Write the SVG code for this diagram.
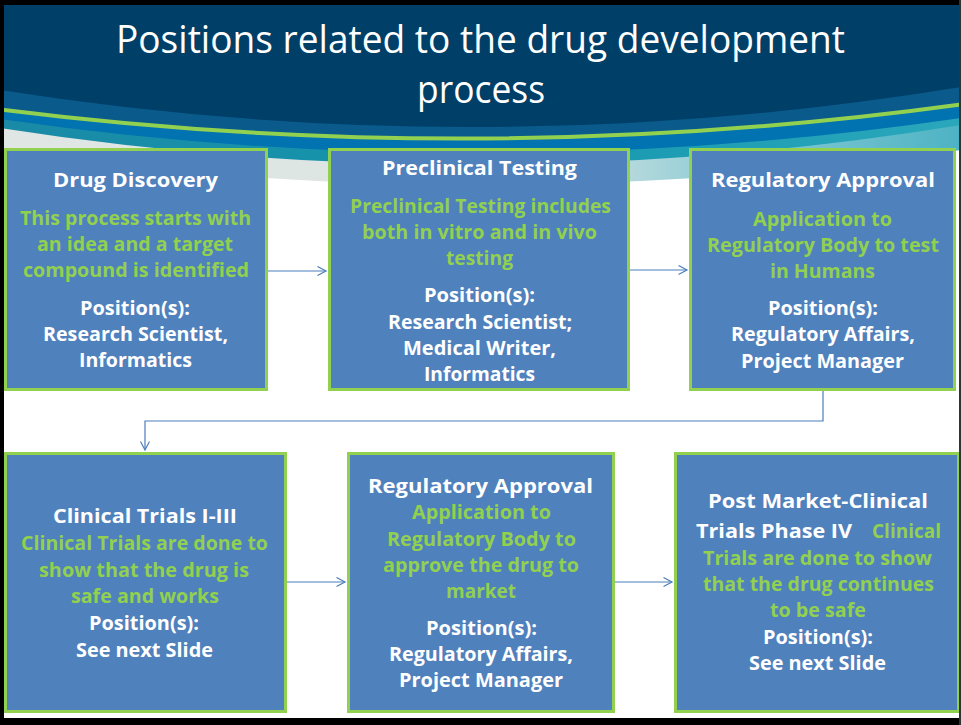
<svg xmlns="http://www.w3.org/2000/svg" width="961" height="725" viewBox="0 0 961 725">
<style>
.box{fill:#4F81BD;stroke:#92D050;stroke-width:3}
.t{font-family:"Open Sans","Liberation Sans",sans-serif;font-weight:bold;font-size:20px;text-anchor:middle}
.w{fill:#FFFFFF}
.g{fill:#92D050}
.title{font-family:"Open Sans","Liberation Sans",sans-serif;font-size:39px;fill:#FFFFFF;text-anchor:middle}
.conn{fill:none;stroke:#4A7EBB;stroke-width:1.2}
</style>
<defs>
<linearGradient id="light" x1="0" y1="0" x2="1" y2="0">
<stop offset="0" stop-color="#dfe6e3"/>
<stop offset="0.55" stop-color="#dde5e2"/>
<stop offset="0.75" stop-color="#8fcdd6"/>
<stop offset="1" stop-color="#4db3c4"/>
</linearGradient>
<linearGradient id="teal" x1="0" y1="0" x2="1" y2="0">
<stop offset="0" stop-color="#1a8aa6"/>
<stop offset="0.5" stop-color="#1596ae"/>
<stop offset="1" stop-color="#2aa7bb"/>
</linearGradient>
<marker id="arr" markerWidth="12" markerHeight="12" refX="9" refY="5" orient="auto" markerUnits="userSpaceOnUse">
<path d="M0.5,0.5 L9,5 L0.5,9.5" fill="none" stroke="#4A7EBB" stroke-width="1.2"/>
</marker>
</defs>
<rect x="0" y="0" width="961" height="725" fill="#FFFFFF"/>
<g id="header">
<path d="M0,0 H961 V150 Q480,220 0,150 Z" fill="url(#light)"/>
<path d="M0,0 H961 V125 Q480,203 0,128 Z" fill="url(#teal)"/>
<path d="M0,0 H961 V118 Q480,188 0,119 Z" fill="#0073b0"/>
<path d="M0,0 H961 V103 Q480,168.5 0,108 Z" fill="#0a5a8c"/>
<path d="M0,109.5 Q480,170 961,104.5" fill="none" stroke="#92D050" stroke-width="4"/>
<path d="M0,0 H961 V87 Q480,165.5 0,90 Z" fill="#003F67"/>
<text class="title" x="480.5" y="53" textLength="729" lengthAdjust="spacingAndGlyphs">Positions related to the drug development</text>
<text class="title" x="481" y="103" textLength="128" lengthAdjust="spacingAndGlyphs">process</text>
</g>
<g id="connectors">
<line class="conn" x1="268" y1="271" x2="326" y2="271" marker-end="url(#arr)"/>
<line class="conn" x1="630" y1="270" x2="687" y2="270" marker-end="url(#arr)"/>
<polyline class="conn" points="823,391 823,421 145,421 145,450" marker-end="url(#arr)"/>
<line class="conn" x1="287" y1="582" x2="345" y2="582" marker-end="url(#arr)"/>
<line class="conn" x1="615" y1="582" x2="672" y2="582" marker-end="url(#arr)"/>
</g>
<g id="drug-discovery">
<rect class="box" x="5.5" y="149.5" width="261" height="240"/>
<text class="t w" x="135.5" y="187" textLength="165" lengthAdjust="spacingAndGlyphs">Drug Discovery</text>
<text class="t g" x="135.5" y="225" textLength="231" lengthAdjust="spacingAndGlyphs">This process starts with</text>
<text class="t g" x="135" y="251" textLength="196" lengthAdjust="spacingAndGlyphs">an idea and a target</text>
<text class="t g" x="136" y="277" textLength="226" lengthAdjust="spacingAndGlyphs">compound is identified</text>
<text class="t w" x="135" y="315" textLength="110" lengthAdjust="spacingAndGlyphs">Position(s):</text>
<text class="t w" x="135.5" y="341" textLength="185" lengthAdjust="spacingAndGlyphs">Research Scientist,</text>
<text class="t w" x="135.5" y="367" textLength="113" lengthAdjust="spacingAndGlyphs">Informatics</text>
</g>
<g id="preclinical-testing">
<rect class="box" x="329.5" y="149.5" width="299" height="240"/>
<text class="t w" x="479.5" y="175" textLength="195" lengthAdjust="spacingAndGlyphs">Preclinical Testing</text>
<text class="t g" x="480.5" y="213" textLength="261" lengthAdjust="spacingAndGlyphs">Preclinical Testing includes</text>
<text class="t g" x="479.5" y="239" textLength="235" lengthAdjust="spacingAndGlyphs">both in vitro and in vivo</text>
<text class="t g" x="479.5" y="265" textLength="67" lengthAdjust="spacingAndGlyphs">testing</text>
<text class="t w" x="479.5" y="302" textLength="111" lengthAdjust="spacingAndGlyphs">Position(s):</text>
<text class="t w" x="480" y="329" textLength="184" lengthAdjust="spacingAndGlyphs">Research Scientist;</text>
<text class="t w" x="479.5" y="355" textLength="153" lengthAdjust="spacingAndGlyphs">Medical Writer,</text>
<text class="t w" x="479.5" y="381" textLength="111" lengthAdjust="spacingAndGlyphs">Informatics</text>
</g>
<g id="regulatory-approval-1">
<rect class="box" x="690.5" y="149.5" width="264" height="240"/>
<text class="t w" x="823" y="187" textLength="224" lengthAdjust="spacingAndGlyphs">Regulatory Approval</text>
<text class="t g" x="822.5" y="226" textLength="139" lengthAdjust="spacingAndGlyphs">Application to</text>
<text class="t g" x="823" y="252" textLength="232" lengthAdjust="spacingAndGlyphs">Regulatory Body to test</text>
<text class="t g" x="822.5" y="278" textLength="105" lengthAdjust="spacingAndGlyphs">in Humans</text>
<text class="t w" x="823" y="315" textLength="110" lengthAdjust="spacingAndGlyphs">Position(s):</text>
<text class="t w" x="823" y="341" textLength="184" lengthAdjust="spacingAndGlyphs">Regulatory Affairs,</text>
<text class="t w" x="822.5" y="368" textLength="163" lengthAdjust="spacingAndGlyphs">Project Manager</text>
</g>
<g id="clinical-trials">
<rect class="box" x="5.5" y="453.5" width="280" height="258"/>
<text class="t w" x="145" y="523" textLength="184" lengthAdjust="spacingAndGlyphs">Clinical Trials I-III</text>
<text class="t g" x="144.5" y="550" textLength="247" lengthAdjust="spacingAndGlyphs">Clinical Trials are done to</text>
<text class="t g" x="144" y="577" textLength="210" lengthAdjust="spacingAndGlyphs">show that the drug is</text>
<text class="t g" x="145" y="603" textLength="148" lengthAdjust="spacingAndGlyphs">safe and works</text>
<text class="t w" x="144" y="630" textLength="110" lengthAdjust="spacingAndGlyphs">Position(s):</text>
<text class="t w" x="144.5" y="657" textLength="137" lengthAdjust="spacingAndGlyphs">See next Slide</text>
</g>
<g id="regulatory-approval-2">
<rect class="box" x="348.5" y="453.5" width="265" height="258"/>
<text class="t w" x="480.5" y="493" textLength="225" lengthAdjust="spacingAndGlyphs">Regulatory Approval</text>
<text class="t g" x="481.5" y="519" textLength="139" lengthAdjust="spacingAndGlyphs">Application to</text>
<text class="t g" x="481.5" y="546" textLength="189" lengthAdjust="spacingAndGlyphs">Regulatory Body to</text>
<text class="t g" x="481" y="572" textLength="196" lengthAdjust="spacingAndGlyphs">approve the drug to</text>
<text class="t g" x="481" y="598" textLength="70" lengthAdjust="spacingAndGlyphs">market</text>
<text class="t w" x="481.5" y="635" textLength="111" lengthAdjust="spacingAndGlyphs">Position(s):</text>
<text class="t w" x="481" y="661" textLength="184" lengthAdjust="spacingAndGlyphs">Regulatory Affairs,</text>
<text class="t w" x="481" y="687" textLength="164" lengthAdjust="spacingAndGlyphs">Project Manager</text>
</g>
<g id="post-market">
<rect class="box" x="675.5" y="453.5" width="283" height="258"/>
<text class="t w" x="818" y="508" textLength="220" lengthAdjust="spacingAndGlyphs">Post Market-Clinical</text>
<text class="t w" x="696" y="538" style="text-anchor:start" textLength="156" lengthAdjust="spacingAndGlyphs">Trials Phase IV</text>
<text class="t g" x="872" y="538" style="text-anchor:start" textLength="69" lengthAdjust="spacingAndGlyphs">Clinical</text>
<text class="t g" x="817.5" y="565" textLength="229" lengthAdjust="spacingAndGlyphs">Trials are done to show</text>
<text class="t g" x="818.5" y="591" textLength="231" lengthAdjust="spacingAndGlyphs">that the drug continues</text>
<text class="t g" x="818" y="617" textLength="96" lengthAdjust="spacingAndGlyphs">to be safe</text>
<text class="t w" x="818" y="644" textLength="110" lengthAdjust="spacingAndGlyphs">Position(s):</text>
<text class="t w" x="817.5" y="670" textLength="137" lengthAdjust="spacingAndGlyphs">See next Slide</text>
</g>
<g id="frame">
<rect x="0" y="0" width="961" height="5" fill="#000000"/>
<rect x="0" y="0" width="4" height="725" fill="#000000"/>
<rect x="0" y="718" width="961" height="7" fill="#000000"/>
<rect x="959" y="0" width="2" height="725" fill="#333333"/>
</g>
</svg>
